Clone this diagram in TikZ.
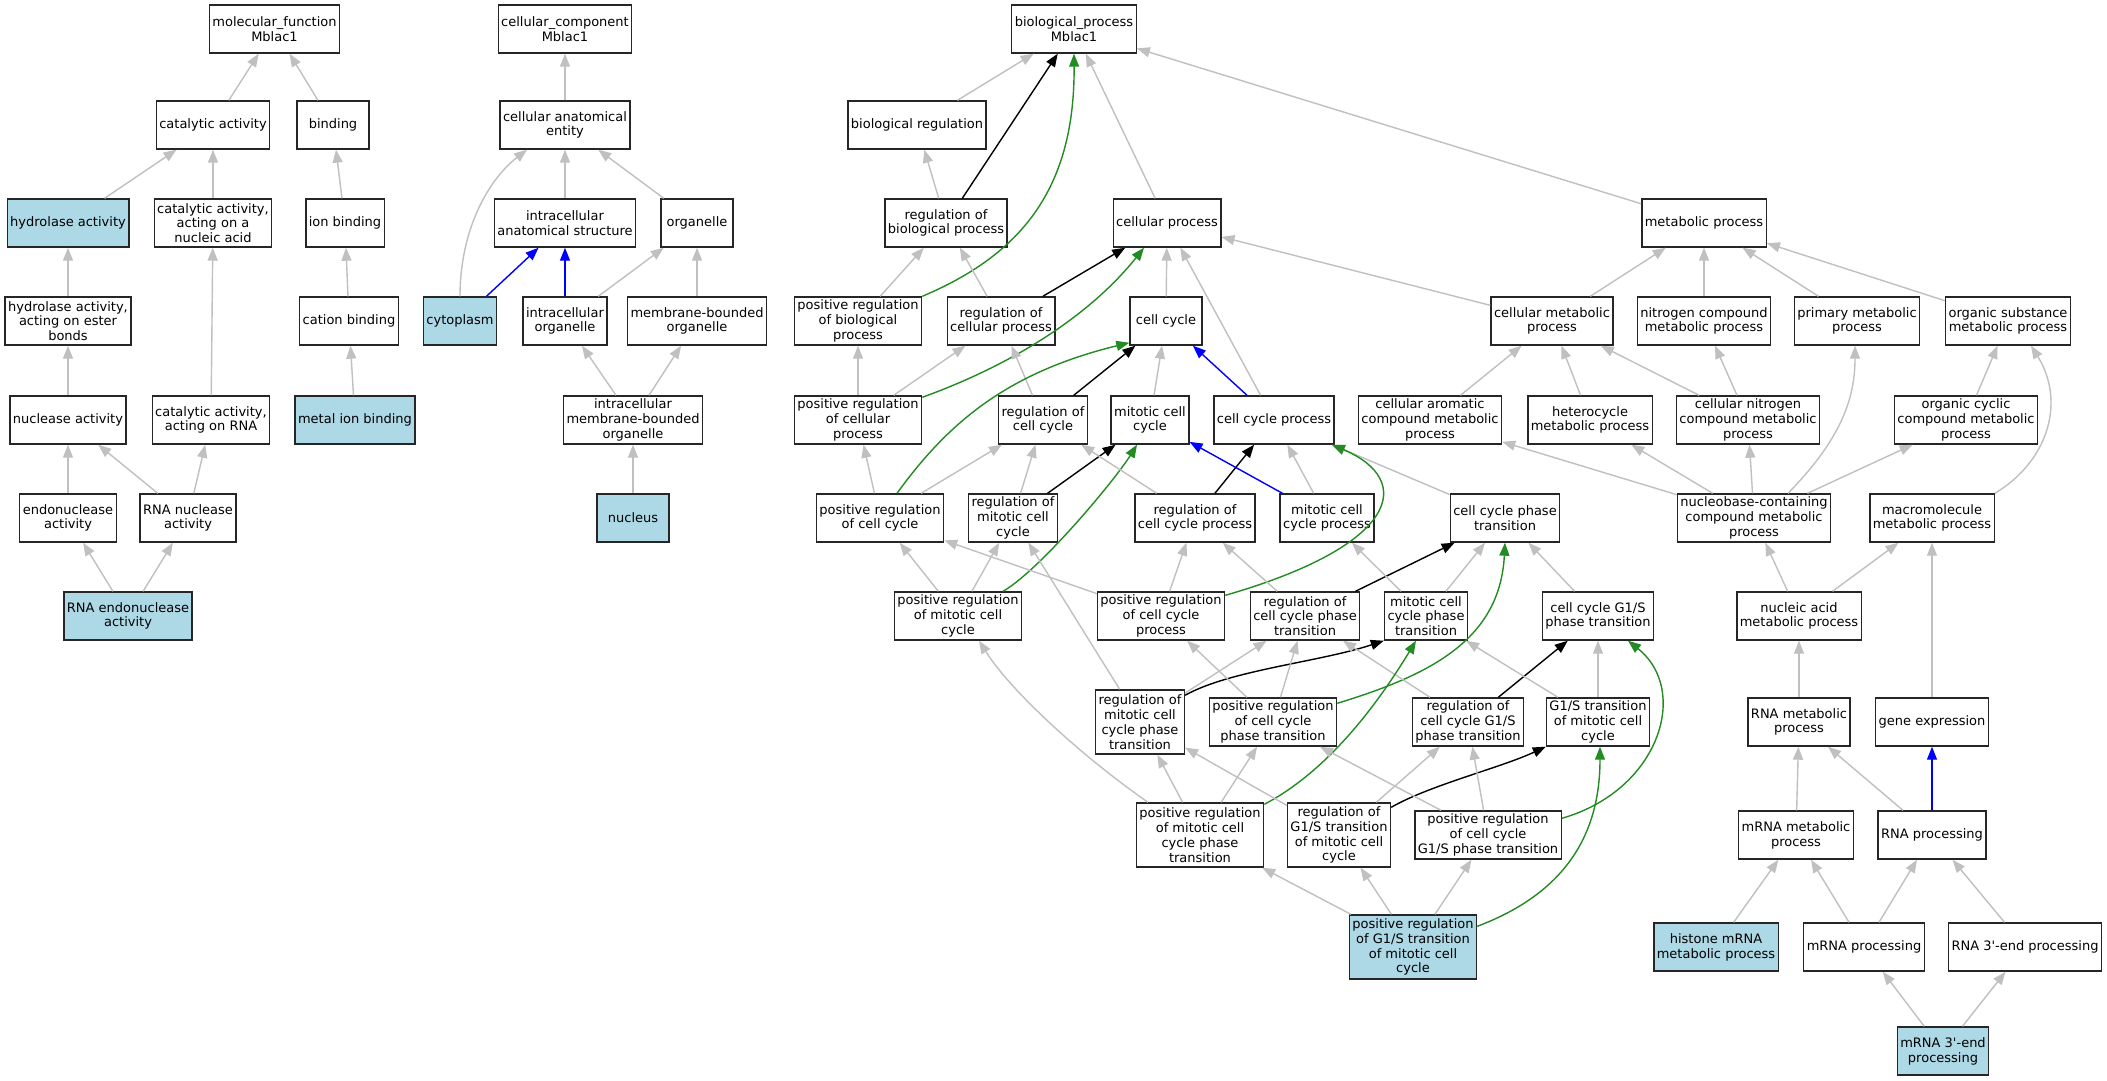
\documentclass[tikz,border=0pt]{standalone}
\usepackage{fontspec}
\newfontfamily\gofont{DejaVu Sans}
\usetikzlibrary{arrows.meta}
\definecolor{edgegray}{HTML}{C0C0C0}
\definecolor{hitblue}{HTML}{ADD8E6}
\definecolor{posgreen}{HTML}{228B22}

\begin{document}
\begin{tikzpicture}[x=1pt, y=-1pt,
    term/.style={draw=black!85, line width=1.4pt, fill=white, align=center,
      minimum width=72pt, minimum height=48pt, inner xsep=3pt, inner ysep=2pt,
      font=\gofont\fontsize{13}{14.8}\selectfont},
    tall/.style={minimum height=64pt},
    hit/.style={term, fill=hitblue},
    isa/.style={draw=edgegray, line width=1.4pt, -{Triangle[length=13pt, width=10pt]}},
    regedge/.style={isa, draw=black},
    partof/.style={isa, draw=blue},
    posedge/.style={isa, draw=posgreen}]
    % Page and background
    \fill[white] (0,0) rectangle (2107,1080);
    \useasboundingbox (0,0) rectangle (2107,1080);

    % Molecular function terms
    \node[term] (mf) at (274.5,29) {molecular\_function\\Mblac1};
    \node[term] (cat) at (213,125) {catalytic activity};
    \node[term] (bind) at (333,125) {binding};
    \node[hit] (hyd) at (68,223) {hydrolase activity};
    \node[term] (catna) at (213,223) {catalytic activity,\\acting on a\\nucleic acid};
    \node[term] (ionb) at (345,223) {ion binding};
    \node[term] (hydest) at (68,321) {hydrolase activity,\\acting on ester\\bonds};
    \node[term] (catb) at (349,321) {cation binding};
    \node[term] (nuc) at (68,420) {nuclease activity};
    \node[term] (catrna) at (211,420) {catalytic activity,\\acting on RNA};
    \node[hit] (metal) at (355,420) {metal ion binding};
    \node[term] (endo) at (68,518) {endonuclease\\activity};
    \node[term] (rnanuc) at (188,518) {RNA nuclease\\activity};
    \node[hit] (rnaendo) at (128,616) {RNA endonuclease\\activity};

    % Cellular component terms
    \node[term] (cc) at (565,29) {cellular\_component\\Mblac1};
    \node[term] (cae) at (565,125) {cellular anatomical\\entity};
    \node[term] (ias) at (565,223) {intracellular\\anatomical structure};
    \node[term] (org) at (697,223) {organelle};
    \node[hit] (cyto) at (460,321) {cytoplasm};
    \node[term] (iorg) at (565,321) {intracellular\\organelle};
    \node[term] (mborg) at (697,321) {membrane-bounded\\organelle};
    \node[term] (imbo) at (633,420) {intracellular\\membrane-bounded\\organelle};
    \node[hit] (nucl) at (633,518) {nucleus};

    % Biological process terms
    \node[term] (bp) at (1074,29) {biological\_process\\Mblac1};
    \node[term] (breg) at (917,125) {biological regulation};
    \node[term] (rbp) at (946,223) {regulation of\\biological process};
    \node[term] (cp) at (1167,223) {cellular process};
    \node[term] (metab) at (1704,223) {metabolic process};
    \node[term] (prbp) at (858,321) {positive regulation\\of biological\\process};
    \node[term] (rcp) at (1001,321) {regulation of\\cellular process};
    \node[term] (ccyc) at (1166,321) {cell cycle};
    \node[term] (cmp) at (1552,321) {cellular metabolic\\process};
    \node[term] (ncmp) at (1704,321) {nitrogen compound\\metabolic process};
    \node[term] (pmp) at (1857,321) {primary metabolic\\process};
    \node[term] (osmp) at (2008,321) {organic substance\\metabolic process};
    \node[term] (prcp) at (858,420) {positive regulation\\of cellular\\process};
    \node[term] (rcc) at (1043,420) {regulation of\\cell cycle};
    \node[term] (mcc) at (1150,420) {mitotic cell\\cycle};
    \node[term] (ccp) at (1274,420) {cell cycle process};
    \node[term] (camp) at (1430,420) {cellular aromatic\\compound metabolic\\process};
    \node[term] (hmp) at (1590,420) {heterocycle\\metabolic process};
    \node[term] (cnmp) at (1748,420) {cellular nitrogen\\compound metabolic\\process};
    \node[term] (ocmp) at (1966,420) {organic cyclic\\compound metabolic\\process};
    \node[term] (prcc) at (880,518) {positive regulation\\of cell cycle};
    \node[term] (rmcc) at (1013,518) {regulation of\\mitotic cell\\cycle};
    \node[term] (rccp) at (1195,518) {regulation of\\cell cycle process};
    \node[term] (mccp) at (1327,518) {mitotic cell\\cycle process};
    \node[term] (ccpt) at (1505,518) {cell cycle phase\\transition};
    \node[term] (nbmp) at (1754,518) {nucleobase-containing\\compound metabolic\\process};
    \node[term] (mmp) at (1932,518) {macromolecule\\metabolic process};
    \node[term] (prmcc) at (958,616) {positive regulation\\of mitotic cell\\cycle};
    \node[term] (prccp) at (1161,616) {positive regulation\\of cell cycle\\process};
    \node[term] (rccpt) at (1305,616) {regulation of\\cell cycle phase\\transition};
    \node[term] (mccpt) at (1426,616) {mitotic cell\\cycle phase\\transition};
    \node[term] (g1spt) at (1598,616) {cell cycle G1/S\\phase transition};
    \node[term] (namp) at (1799,616) {nucleic acid\\metabolic process};
    \node[term, tall] (rmccpt) at (1140,722) {regulation of\\mitotic cell\\cycle phase\\transition};
    \node[term] (prccpt) at (1273,722) {positive regulation\\of cell cycle\\phase transition};
    \node[term] (rccg1s) at (1468,722) {regulation of\\cell cycle G1/S\\phase transition};
    \node[term] (g1smcc) at (1598,722) {G1/S transition\\of mitotic cell\\cycle};
    \node[term] (rnamp) at (1799,722) {RNA metabolic\\process};
    \node[term] (gexp) at (1932,722) {gene expression};
    \node[term, tall] (prmccpt) at (1200,835) {positive regulation\\of mitotic cell\\cycle phase\\transition};
    \node[term, tall] (rg1s) at (1339,835) {regulation of\\G1/S transition\\of mitotic cell\\cycle};
    \node[term] (prccg1s) at (1488,835) {positive regulation\\of cell cycle\\G1/S phase transition};
    \node[term] (mrnamp) at (1796,835) {mRNA metabolic\\process};
    \node[term] (rnaproc) at (1932,835) {RNA processing};
    \node[hit, tall] (prg1s) at (1413,947) {positive regulation\\of G1/S transition\\of mitotic cell\\cycle};
    \node[hit] (hist) at (1716,947) {histone mRNA\\metabolic process};
    \node[term] (mrnaproc) at (1864,947) {mRNA processing};
    \node[term] (rna3) at (2025,947) {RNA 3'-end processing};
    \node[hit] (mrna3) at (1943,1051) {mRNA 3'-end\\processing};

    % Molecular function edges
    \draw[isa] (cat) -- (mf);
    \draw[isa] (bind) -- (mf);
    \draw[isa] (hyd) -- (cat);
    \draw[isa] (catna) -- (cat);
    \draw[isa] (ionb) -- (bind);
    \draw[isa] (hydest) -- (hyd);
    \draw[isa] (catb) -- (ionb);
    \draw[isa] (nuc) -- (hydest);
    \draw[isa] (catrna) -- (catna);
    \draw[isa] (metal) -- (catb);
    \draw[isa] (endo) -- (nuc);
    \draw[isa] (rnanuc) -- (nuc);
    \draw[isa] (rnanuc) -- (catrna);
    \draw[isa] (rnaendo) -- (endo);
    \draw[isa] (rnaendo) -- (rnanuc);

    % Cellular component edges
    \draw[isa] (cae) -- (cc);
    \draw[isa] (ias) -- (cae);
    \draw[isa] (org) -- (cae);
    \draw[isa] (cyto.north) .. controls (460,230) and (488,180) .. ([xshift=-38pt]cae.south);
    \draw[partof] (cyto) -- (ias);
    \draw[partof] (iorg) -- (ias);
    \draw[isa] (iorg) -- (org);
    \draw[isa] (mborg) -- (org);
    \draw[isa] (imbo) -- (iorg);
    \draw[isa] (imbo) -- (mborg);
    \draw[isa] (nucl) -- (imbo);

    % Biological process edges
    \draw[isa] (breg) -- (bp);
    \draw[regedge] (rbp) -- (bp);
    \draw[posedge] (prbp.north east) .. controls (1020,255) and (1075,190) .. (bp.south);
    \draw[isa] (cp) -- (bp);
    \draw[isa] (metab) -- (bp);
    \draw[isa] (rbp) -- (breg);
    \draw[isa] (prbp) -- (rbp);
    \draw[isa] (rcp) -- (rbp);
    \draw[regedge] (rcp) -- (cp);
    \draw[posedge] ([yshift=-2pt]prcp.north east) .. controls (1017,363) and (1092,313) .. ([xshift=-23pt]cp.south);
    \draw[isa] (ccyc) -- (cp);
    \draw[isa] (ccp) -- (cp);
    \draw[isa] (cmp) -- (cp);
    \draw[isa] (prcp) -- (prbp);
    \draw[isa] (prcp) -- (rcp);
    \draw[isa] (rcc) -- (rcp);
    \draw[regedge] (rcc) -- (ccyc);
    \draw[posedge] ([xshift=17pt]prcc.north) .. controls (950,420) and (1010,372) .. ([yshift=3pt]ccyc.south west);
    \draw[isa] (mcc) -- (ccyc);
    \draw[partof] (ccp) -- (ccyc);
    \draw[isa] (prcc) -- (prcp);
    \draw[isa] (prcc) -- (rcc);
    \draw[isa] (rmcc) -- (rcc);
    \draw[regedge] (rmcc) -- (mcc);
    \draw[posedge] ([xshift=45pt]prmcc.north) .. controls (1040,570) and (1115,480) .. ([xshift=-13pt]mcc.south);
    \draw[isa] (rccp) -- (rcc);
    \draw[regedge] (rccp) -- (ccp);
    \draw[partof] (mccp) -- (mcc);
    \draw[isa] (mccp) -- (ccp);
    \draw[isa] (ccpt) -- (ccp);
    \draw[isa] (prmcc) -- (prcc);
    \draw[isa] (prmcc) -- (rmcc);
    \draw[isa] (prccp) -- (prcc);
    \draw[isa] (prccp) -- (rccp);
    \draw[posedge] ([yshift=-4pt]prccp.north east) .. controls (1400,545) and (1415,480) .. ([xshift=-3pt]ccp.south east);
    \draw[isa] (rccpt) -- (rccp);
    \draw[regedge] (rccpt) -- (ccpt);
    \draw[isa] (mccpt) -- (mccp);
    \draw[isa] (mccpt) -- (ccpt);
    \draw[isa] (g1spt) -- (ccpt);
    \draw[isa] (rmccpt) -- (rmcc);
    \draw[isa] (rmccpt) -- (rccpt);
    \draw[regedge] ([yshift=-6pt]rmccpt.north east) .. controls (1230,670) and (1320,662) .. (mccpt.south west);
    \draw[isa] (prccpt) -- (prccp);
    \draw[isa] (prccpt) -- (rccpt);
    \draw[posedge] ([yshift=-6pt]prccpt.north east) .. controls (1430,675) and (1500,640) .. (ccpt.south);
    \draw[isa] (rccg1s) -- (rccpt);
    \draw[regedge] (rccg1s) -- (g1spt);
    \draw[isa] (g1smcc) -- (mccpt);
    \draw[isa] (g1smcc) -- (g1spt);
    \draw[isa] ([xshift=-52pt]prmccpt.north) .. controls (1080,755) and (1010,690) .. ([xshift=21pt]prmcc.south);
    \draw[isa] (prmccpt) -- (rmccpt);
    \draw[isa] (prmccpt) -- (prccpt);
    \draw[posedge] ([yshift=-2pt]prmccpt.north east) .. controls (1330,770) and (1380,700) .. ([xshift=-10pt]mccpt.south);
    \draw[isa] (rg1s) -- (rmccpt);
    \draw[isa] (rg1s) -- (rccg1s);
    \draw[regedge] ([yshift=-5pt]rg1s.north east) .. controls (1430,785) and (1500,768) .. (g1smcc.south west);
    \draw[isa] (prccg1s) -- (prccpt);
    \draw[isa] (prccg1s) -- (rccg1s);
    \draw[posedge] ([yshift=-8pt]prccg1s.north east) .. controls (1660,790) and (1690,690) .. ([xshift=30pt]g1spt.south);
    \draw[isa] (prg1s) -- (prmccpt);
    \draw[isa] (prg1s) -- (rg1s);
    \draw[isa] (prg1s) -- (prccg1s);
    \draw[posedge] ([yshift=-12pt]prg1s.north east) .. controls (1560,895) and (1600,840) .. ([xshift=2pt]g1smcc.south);

    % Metabolic edges
    \draw[isa] (cmp) -- (metab);
    \draw[isa] (ncmp) -- (metab);
    \draw[isa] (pmp) -- (metab);
    \draw[isa] (osmp) -- (metab);
    \draw[isa] (camp) -- (cmp);
    \draw[isa] (hmp) -- (cmp);
    \draw[isa] (cnmp) -- (cmp);
    \draw[isa] (cnmp) -- (ncmp);
    \draw[isa] (ocmp) -- (osmp);
    \draw[isa] (nbmp) -- (camp);
    \draw[isa] (nbmp) -- (hmp);
    \draw[isa] (nbmp) -- (cnmp);
    \draw[isa] ([xshift=34pt]nbmp.north) .. controls (1840,440) and (1855,400) .. ([xshift=-2pt]pmp.south);
    \draw[isa] (nbmp) -- (ocmp);
    \draw[isa] (mmp.north east) .. controls (2050,460) and (2065,400) .. ([xshift=23pt]osmp.south);
    \draw[isa] (namp) -- (nbmp);
    \draw[isa] (namp) -- (mmp);
    \draw[isa] (rnamp) -- (namp);
    \draw[isa] (gexp) -- (mmp);
    \draw[isa] (mrnamp) -- (rnamp);
    \draw[isa] (rnaproc) -- (rnamp);
    \draw[partof] (rnaproc) -- (gexp);
    \draw[isa] (hist) -- (mrnamp);
    \draw[isa] (mrnaproc) -- (mrnamp);
    \draw[isa] (mrnaproc) -- (rnaproc);
    \draw[isa] (rna3) -- (rnaproc);
    \draw[isa] (mrna3) -- (mrnaproc);
    \draw[isa] (mrna3) -- (rna3);
\end{tikzpicture}
\end{document}
